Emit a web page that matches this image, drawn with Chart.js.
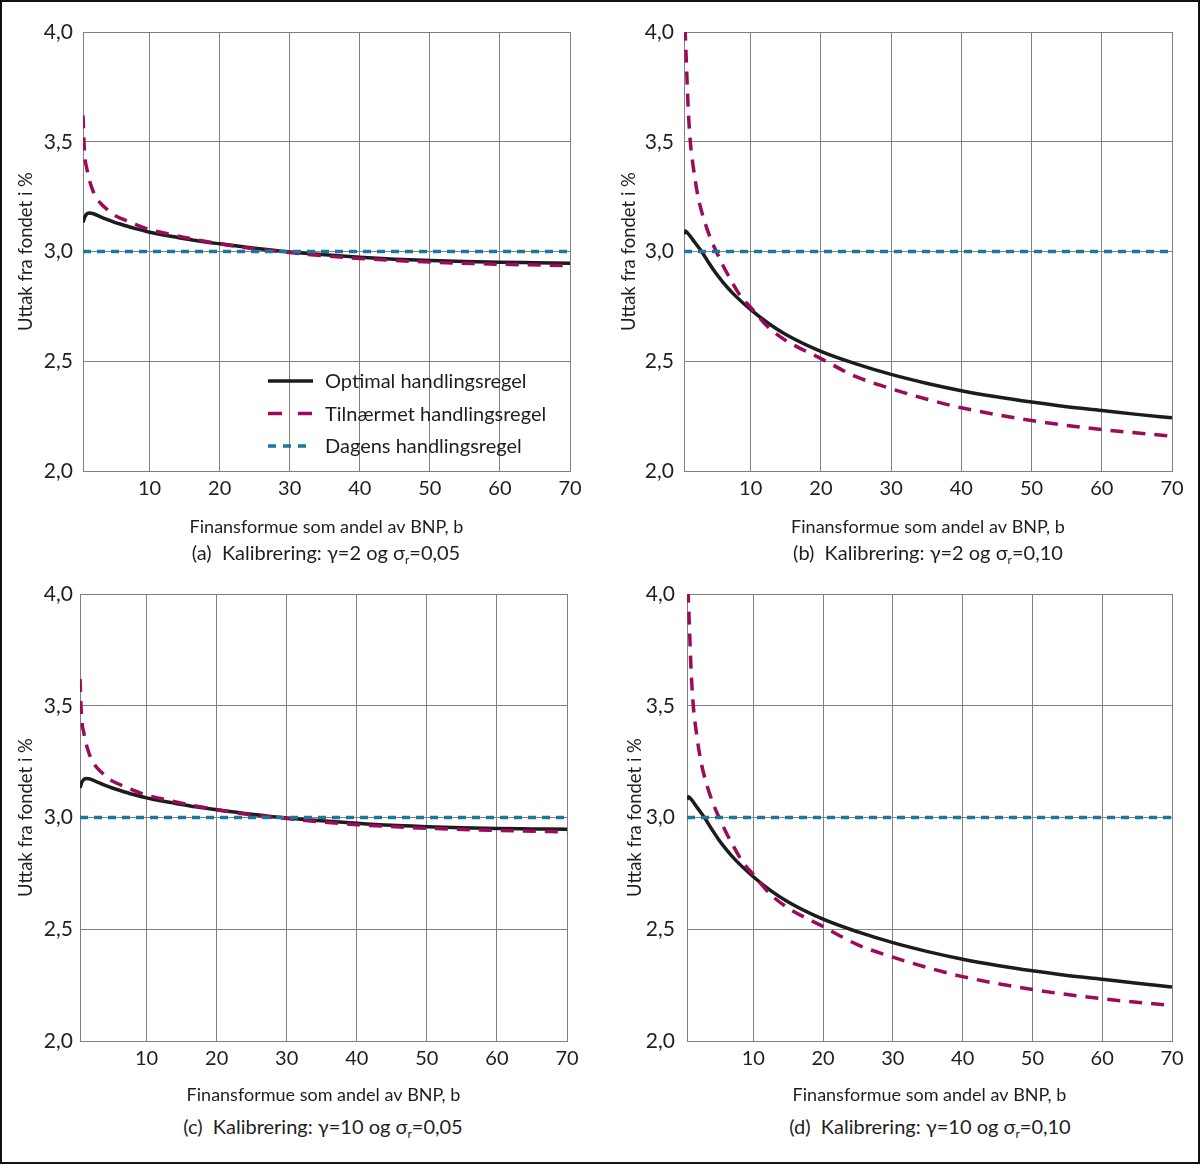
<!DOCTYPE html>
<html lang="no">
<head>
<meta charset="utf-8">
<title>Uttak fra fondet</title>
<script src="https://cdn.jsdelivr.net/npm/chart.js@4.4.1/dist/chart.umd.min.js"></script>
<style>
  html, body { margin: 0; padding: 0; background: #fff; }
  #page { position: relative; width: 1200px; height: 1164px; background: #fff; overflow: hidden; }
  #page canvas { position: absolute; }
  .caption {
    position: absolute; width: 600px; text-align: center;
    font-family: Lato, 'Open Sans', sans-serif; font-size: 20px; color: #1e1e1e;
    line-height: 24px; white-space: nowrap;
  }
  .caption sub { font-size: 12px; vertical-align: -4px; line-height: 0; }
  #frame { position: absolute; left: 0; top: 0; width: 1200px; height: 1164px;
    box-sizing: border-box; border: 2px solid #111; pointer-events: none; }
</style>
</head>
<body>
<div id="page">
  <canvas id="chartA" width="600" height="545" style="left:0;top:0"></canvas>
  <canvas id="chartB" width="600" height="545" style="left:600px;top:0"></canvas>
  <canvas id="chartC" width="600" height="545" style="left:0;top:563px"></canvas>
  <canvas id="chartD" width="600" height="545" style="left:600px;top:563px"></canvas>
  <div class="caption" id="capA" style="left:26px;top:540px"></div>
  <div class="caption" id="capB" style="left:628px;top:540px"></div>
  <div class="caption" id="capC" style="left:23px;top:1114px"></div>
  <div class="caption" id="capD" style="left:630px;top:1114px"></div>
  <div id="frame"></div>
</div>
<script>
// Akser
const xTicks = [10, 20, 30, 40, 50, 60, 70];
const yTicks = [2.0, 2.5, 3.0, 3.5, 4.0];
const seriesNames = ['Optimal handlingsregel', 'Tilnærmet handlingsregel', 'Dagens handlingsregel'];

// sigma_r = 0,05 (panel a og c)
const optX05 = [0.5, 0.8, 1.4, 2, 3, 4, 5, 6, 8, 10, 12, 14, 17, 20, 25, 30, 35, 40, 45, 50, 55, 60, 65, 70];
const optY05 = [3.132, 3.160, 3.175, 3.172, 3.158, 3.145, 3.133, 3.123, 3.104, 3.088, 3.075, 3.064, 3.048, 3.035, 3.015, 2.998, 2.985, 2.974, 2.965, 2.959, 2.954, 2.951, 2.949, 2.947];
const appX05 = [0.5, 0.65, 0.8, 1, 1.3, 1.6, 2, 2.5, 3, 4, 5, 6, 7.5, 10, 12, 15, 20, 25, 30, 35, 40, 50, 60, 70];
const appY05 = [3.62, 3.49, 3.42, 3.385, 3.34, 3.305, 3.27, 3.24, 3.22, 3.19, 3.165, 3.15, 3.13, 3.10, 3.085, 3.064, 3.035, 3.012, 2.995, 2.98, 2.968, 2.952, 2.942, 2.936];

// sigma_r = 0,10 (panel b og d)
const optX10 = [0.5, 0.7, 1, 1.5, 2, 3, 4, 5, 6, 7.5, 10, 12.5, 15, 20, 25, 30, 35, 40, 45, 50, 55, 60, 65, 70];
const optY10 = [3.08, 3.093, 3.085, 3.065, 3.043, 3.0, 2.95, 2.903, 2.862, 2.808, 2.735, 2.673, 2.622, 2.545, 2.488, 2.44, 2.40, 2.366, 2.338, 2.314, 2.293, 2.276, 2.258, 2.242];
const appX10 = [0.65, 0.85, 1.1, 1.4, 1.8, 2.5, 3.4, 4.4, 5.1, 6, 7, 8.5, 10, 12.5, 15, 20, 25, 30, 35, 40, 50, 60, 70];
const appY10 = [4.02, 3.85, 3.65, 3.50, 3.39, 3.25, 3.14, 3.05, 3.0, 2.94, 2.88, 2.80, 2.745, 2.655, 2.595, 2.512, 2.43, 2.375, 2.328, 2.288, 2.23, 2.189, 2.159];

// Dagens handlingsregel: 3 %
const dagX = [0.5, 70];
const dagY = [3.0, 3.0];

// Undertekster
const panelTags = ['(a)', '(b)', '(c)', '(d)'];
const gammas = ['2', '2', '10', '10'];
const sigmas = ['0,05', '0,10', '0,05', '0,10'];

const FONT = "Lato, 'Open Sans', sans-serif";
const TEXT = '#1e1e1e';
const GRID = '#808080';

function toPoints(xs, ys) {
    return xs.map((x, i) => ({ x: x, y: ys[i] }));
}

// Legende inne i plottet (kun panel a)
const legendInside = {
    id: 'legendInside',
    afterDatasetsDraw(chart, args, opts) {
        if (!opts.show) return;
        const ctx = chart.ctx;
        const a = chart.chartArea;
        chart.data.datasets.forEach((ds, i) => {
            const y = a.top + opts.top + i * opts.rowGap;
            ctx.save();
            ctx.strokeStyle = ds.borderColor;
            ctx.lineWidth = ds.borderWidth;
            ctx.setLineDash(opts.dashes[i]);
            ctx.beginPath();
            ctx.moveTo(a.left + opts.lineX, y);
            ctx.lineTo(a.left + opts.lineX + opts.lineLen, y);
            ctx.stroke();
            ctx.setLineDash([]);
            ctx.fillStyle = TEXT;
            ctx.font = '20px ' + FONT;
            ctx.textBaseline = 'middle';
            ctx.fillText(ds.label, a.left + opts.textX, y + 1);
            ctx.restore();
        });
    }
};

function makeChart(id, optX, optY, appX, appY, lay) {
    const ctx = document.getElementById(id).getContext('2d');
    return new Chart(ctx, {
        type: 'line',
        data: {
            datasets: [
                {
                    label: seriesNames[0],
                    data: toPoints(optX, optY),
                    borderColor: '#1c1c1c',
                    borderWidth: 3.5,
                    cubicInterpolationMode: 'monotone',
                    pointRadius: 0,
                    order: 3
                },
                {
                    label: seriesNames[1],
                    data: toPoints(appX, appY),
                    borderColor: '#9c0b5b',
                    borderWidth: 3.5,
                    borderDash: [13, 9],
                    cubicInterpolationMode: 'monotone',
                    pointRadius: 0,
                    order: 2
                },
                {
                    label: seriesNames[2],
                    data: toPoints(dagX, dagY),
                    borderColor: '#1a789c',
                    borderWidth: 3.5,
                    borderDash: [8, 6],
                    pointRadius: 0,
                    order: 1
                }
            ]
        },
        options: {
            responsive: false,
            animation: false,
            devicePixelRatio: 1,
            layout: { padding: { left: 0, top: lay.top, right: lay.right, bottom: 0 } },
            plugins: {
                legend: { display: false },
                tooltip: { enabled: false },
                legendInside: {
                    show: lay.legend,
                    top: 349, rowGap: 32.5,
                    lineX: 185, lineLen: 45, textX: 242,
                    dashes: [[], [14, 16], [8, 7]]
                }
            },
            scales: {
                x: {
                    type: 'linear',
                    min: 0.5,
                    max: 70,
                    afterBuildTicks: s => { s.ticks = xTicks.map(v => ({ value: v })); },
                    afterFit: s => { s.height = lay.xh; },
                    grid: { color: GRID, lineWidth: 1, drawTicks: false },
                    border: { color: GRID, width: 1 },
                    ticks: {
                        color: TEXT, padding: 6, maxRotation: 0,
                        font: { family: FONT, size: 20 },
                        callback: v => String(v)
                    },
                    title: {
                        display: true,
                        text: 'Finansformue som andel av BNP, b',
                        color: TEXT,
                        font: { family: FONT, size: 18 },
                        padding: { top: 0, bottom: lay.xtPad }
                    }
                },
                y: {
                    type: 'linear',
                    min: 2,
                    max: 4,
                    afterBuildTicks: s => { s.ticks = yTicks.map(v => ({ value: v })); },
                    afterFit: s => { s.width = lay.yw; },
                    grid: { color: GRID, lineWidth: 1, drawTicks: false },
                    border: { color: GRID, width: 1 },
                    ticks: {
                        color: TEXT, padding: lay.ytPad,
                        font: { family: FONT, size: 21 },
                        callback: v => v.toFixed(1).replace('.', ',')
                    },
                    title: {
                        display: true,
                        text: 'Uttak fra fondet i %',
                        color: TEXT,
                        font: { family: FONT, size: 18.5 },
                        padding: { top: lay.ytitle, bottom: 0 }
                    }
                }
            }
        },
        plugins: [legendInside]
    });
}

function fillCaptions() {
    ['capA', 'capB', 'capC', 'capD'].forEach((id, i) => {
        document.getElementById(id).innerHTML =
            panelTags[i] + '&nbsp;&nbsp;Kalibrering: γ=' + gammas[i] +
            ' og σ<sub>r</sub>=' + sigmas[i];
    });
}

fillCaptions();
makeChart('chartA', optX05, optY05, appX05, appY05,
    { top: 32, right: 30, yw: 83, xh: 74, xtPad: 7, ytPad: 10, ytitle: 15, legend: true });
makeChart('chartB', optX10, optY10, appX10, appY10,
    { top: 32, right: 28, yw: 84, xh: 74, xtPad: 7, ytPad: 10, ytitle: 18, legend: false });
makeChart('chartC', optX05, optY05, appX05, appY05,
    { top: 31, right: 33, yw: 80, xh: 67, xtPad: 2, ytPad: 7, ytitle: 15, legend: false });
makeChart('chartD', optX10, optY10, appX10, appY10,
    { top: 31, right: 28, yw: 87, xh: 67, xtPad: 2, ytPad: 12, ytitle: 24, legend: false });
</script>
</body>
</html>
